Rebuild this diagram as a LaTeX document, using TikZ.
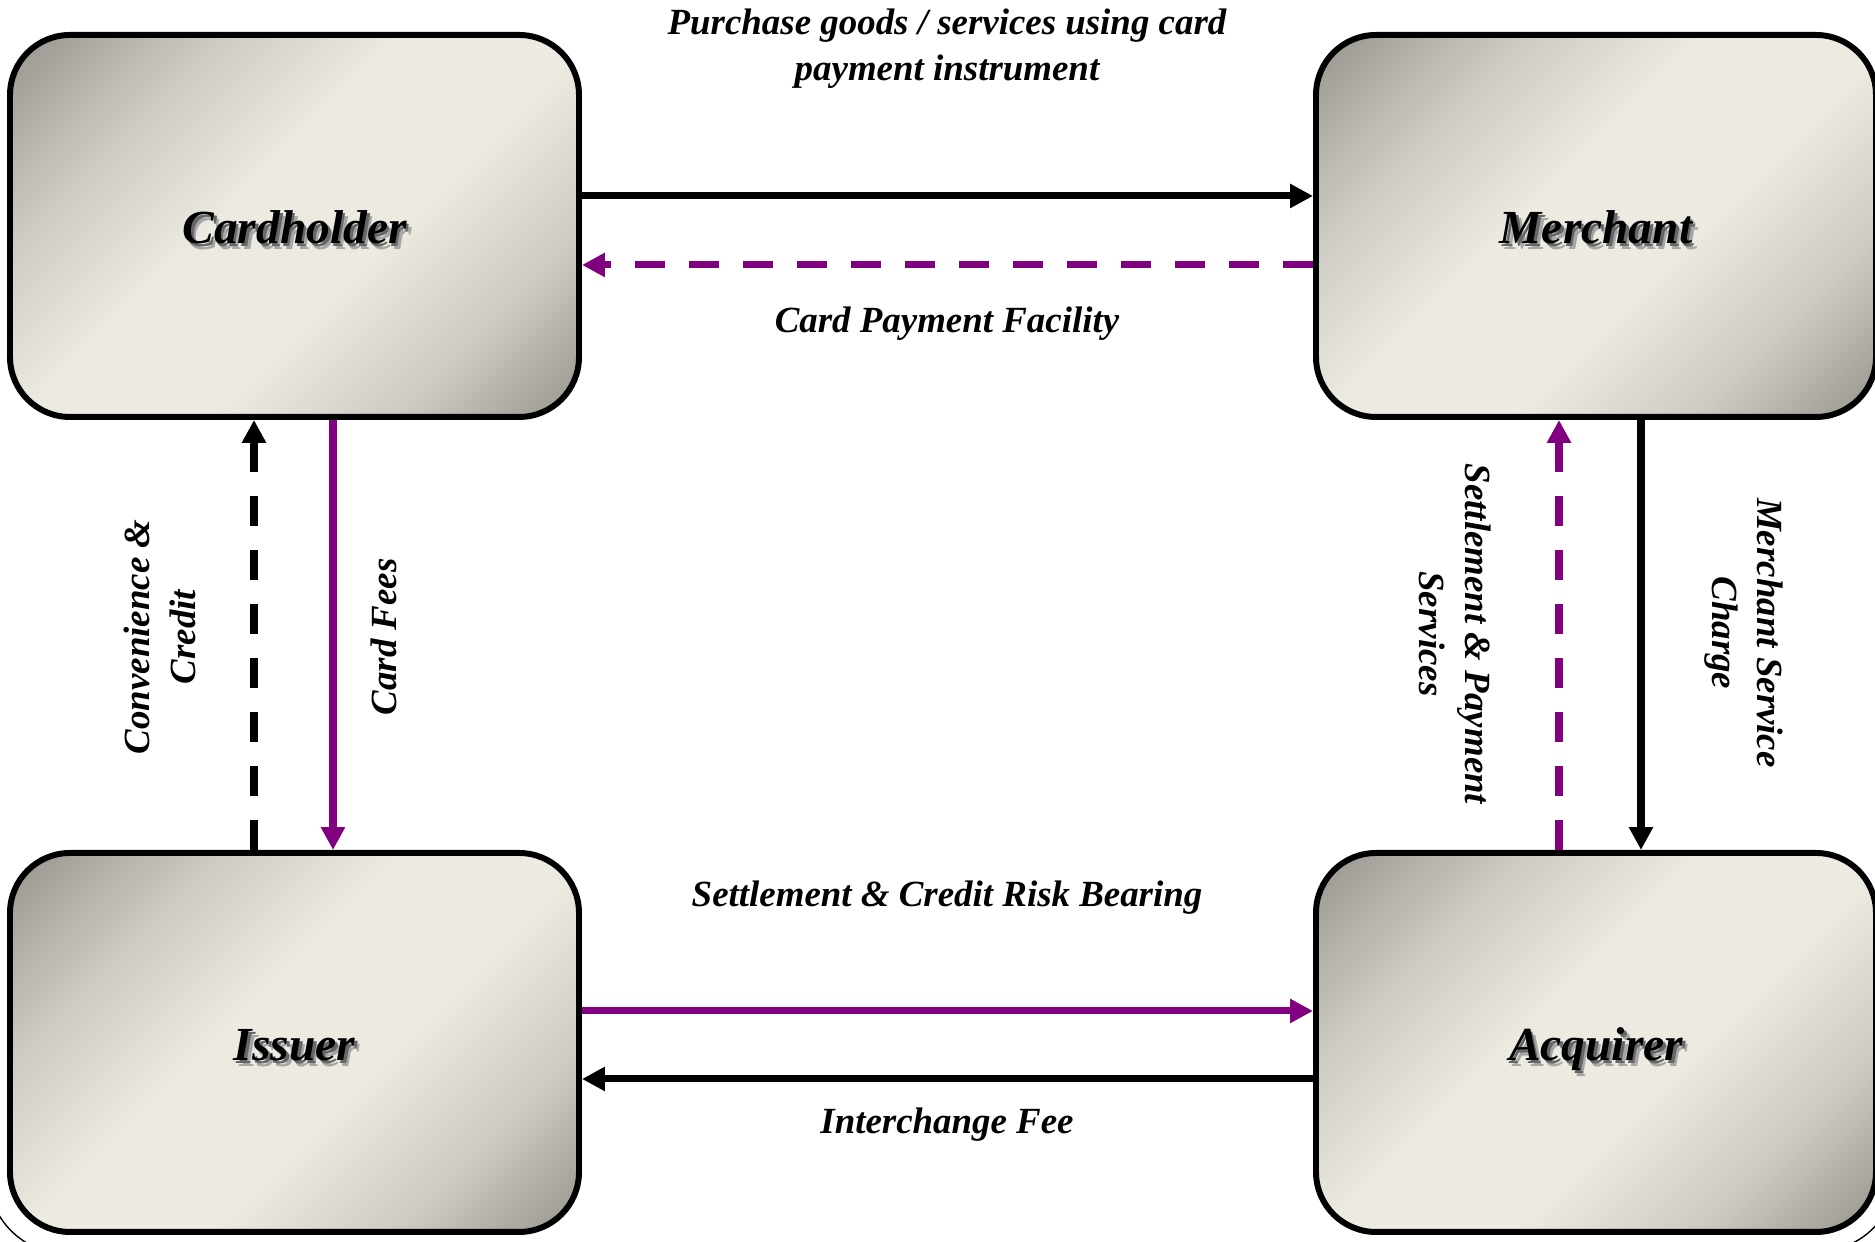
\documentclass[tikz,border=0pt]{standalone}
\usepackage{fontspec}
\setmainfont{Liberation Serif}
\usetikzlibrary{arrows.meta}

\definecolor{flowpurple}{RGB}{128,0,128}
\definecolor{boxdark}{RGB}{104,103,96}
\definecolor{boxgrey}{RGB}{148,146,138}
\definecolor{boxmid}{RGB}{204,202,193}
\definecolor{boxlight}{RGB}{237,235,225}

% diagonal light band across each party box
\pgfdeclarehorizontalshading{partyshade}{100bp}{color(0bp)=(boxdark); color(14bp)=(boxgrey); color(30bp)=(boxmid); color(44bp)=(boxlight); color(58bp)=(boxlight); color(72bp)=(boxmid); color(86bp)=(boxgrey); color(100bp)=(boxdark)}

% title with a soft drop shadow behind it
\newcommand{\shadowed}[1]{%
  \makebox[0pt][l]{\kern1.5pt\raisebox{-1.7pt}{\color{black!35}#1}}%
  \makebox[0pt][l]{\kern0.8pt\raisebox{-0.9pt}{\color{black!60}#1}}#1}

\tikzset{
  party/.style={draw, line width=1.7pt, rounded corners=0.6cm, shading=partyshade, shading angle=-45,
    minimum width=5.69cm, minimum height=3.82cm, inner sep=0pt},
  partytitle/.style={font=\fontsize{13.5}{16}\selectfont\bfseries\itshape, inner sep=0pt, text height=1.45ex, text depth=0pt},
  flowlbl/.style={font=\fontsize{10.5}{13}\selectfont\bfseries\itshape, align=center, inner sep=1pt},
  flow/.style={line width=2pt, -{Triangle[length=6.5pt,width=6.5pt]}},
  dashflow/.style={dash pattern=on 0.3cm off 0.24cm}
}

\begin{document}
\begin{tikzpicture}
	\useasboundingbox (0,0) rectangle (18.75,12.42);

	% the four parties
	\node[party] (card) at (2.945,10.16) {};
	\node[party, minimum width=5.60cm] (merch) at (15.96,10.16) {};
	\node[party, minimum height=3.79cm] (iss) at (2.945,1.995) {};
	\node[party, minimum width=5.60cm, minimum height=3.79cm] (acq) at (15.96,1.995) {};

	\foreach \p/\t in {card/Cardholder, merch/Merchant, iss/Issuer, acq/Acquirer}
		\node[partytitle] (\p-title) at ([yshift=-0.06cm]\p.center) {\shadowed{\t}};

	% thin outline at the lower outer corners
	\draw[thin] ([shift={(0.6,0.6)}]iss.south west) ++(180:0.79) arc[start angle=180, end angle=270, radius=0.79];
	\draw[thin] ([shift={(-0.6,0.6)}]acq.south east) ++(270:0.76) arc[start angle=270, end angle=360, radius=0.76];

	% cardholder <-> merchant
	\draw[flow] ([yshift=0.30cm]card.east) -- ([yshift=0.30cm]merch.west);
	\draw[flow, flowpurple, dashflow] ([yshift=-0.39cm]merch.west) -- ([yshift=-0.39cm]card.east);

	% cardholder <-> issuer
	\draw[flow, dashflow] ([xshift=-0.405cm]iss.north) -- ([xshift=-0.405cm]card.south);
	\draw[flow, flowpurple] ([xshift=0.385cm]card.south) -- ([xshift=0.385cm]iss.north);

	% merchant <-> acquirer
	\draw[flow, flowpurple, dashflow] ([xshift=-0.37cm]acq.north) -- ([xshift=-0.37cm]merch.south);
	\draw[flow] ([xshift=0.45cm]merch.south) -- ([xshift=0.45cm]acq.north);

	% issuer <-> acquirer
	\draw[flow, flowpurple] ([yshift=0.315cm]iss.east) -- ([yshift=0.315cm]acq.west);
	\draw[flow] ([yshift=-0.365cm]acq.west) -- ([yshift=-0.365cm]iss.east);

	\node[flowlbl] (buy) at (9.47,11.93) {Purchase goods / services using card\\payment instrument};
	\node[flowlbl] (facility) at (9.47,9.18) {Card Payment Facility};
	\node[flowlbl, rotate=90] (conv) at (1.60,6.05) {Convenience \&\\Credit};
	\node[flowlbl, rotate=90] (fees) at (3.84,6.05) {Card Fees};
	\node[flowlbl, rotate=-90] (settle) at (14.55,6.08) {Settlement \& Payment\\Services};
	\node[flowlbl, rotate=-90] (msc) at (17.44,6.09) {Merchant Service\\Charge};
	\node[flowlbl] (risk) at (9.47,3.44) {Settlement \& Credit Risk Bearing};
	\node[flowlbl] (ichg) at (9.47,1.17) {Interchange Fee};
\end{tikzpicture}
\end{document}
